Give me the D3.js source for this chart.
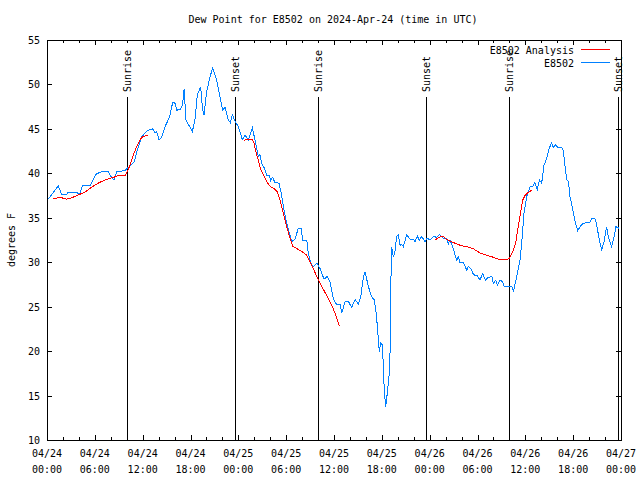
<!DOCTYPE html>
<html><head><meta charset="utf-8">
<script src="https://cdn.jsdelivr.net/npm/d3@7/dist/d3.min.js"></script>
<style>
body{margin:0;background:#fff;}
text{font-family:"DejaVu Sans Mono","Liberation Mono",monospace;font-size:10px;fill:#000;}
</style>
</head><body>
<svg id="chart" width="640" height="480"></svg>
<script>
const title = "Dew Point for E8502 on 2024-Apr-24 (time in UTC)";
const yLabel = "degrees F";
const startDate = Date.UTC(2024, 3, 24, 0, 0);
const tickDateLabels = ["04/24","04/24","04/24","04/24","04/25","04/25","04/25","04/25","04/26","04/26","04/26","04/26","04/27"];
const tickTimeLabels = ["00:00","06:00","12:00","18:00","00:00","06:00","12:00","18:00","00:00","06:00","12:00","18:00","00:00"];
const yTicks = [10,15,20,25,30,35,40,45,50,55];

// hours since 2024-04-24 00:00 UTC
const obsHours = [0.17,1.0,1.42,1.84,2.47,2.68,3.72,4.05,4.47,5.39,6.15,6.86,7.69,7.9,8.4,8.74,9.78,10.12,10.95,11.25,11.87,12.58,13.25,13.55,13.76,14.05,14.4,14.8,15.2,15.43,15.76,16.06,16.27,16.7,17.0,17.2,17.44,17.8,18.23,18.56,18.85,19.27,19.5,19.7,20.03,20.45,20.78,21.28,21.7,22.03,22.33,22.75,23.0,23.25,23.62,24.0,24.5,24.84,25.26,25.76,26.09,26.5,26.7,26.93,27.2,27.56,27.9,28.06,28.3,28.6,29.1,29.35,29.73,29.98,30.3,30.7,31.1,31.52,31.86,32.07,32.58,32.78,33.08,33.4,33.83,34.24,34.75,35.16,35.5,35.92,36.34,36.75,36.97,37.4,37.8,38.22,38.64,39.05,39.35,39.7,39.9,40.3,40.73,41.06,41.27,41.43,41.68,41.86,42.06,42.19,42.3,42.49,42.7,42.94,43.11,43.15,43.24,43.44,43.65,43.86,44.07,44.28,44.49,44.7,45.12,45.53,45.95,46.16,46.45,46.7,47.0,47.42,47.7,48.04,48.46,48.88,49.2,49.5,49.8,50.13,50.34,50.55,50.89,51.18,51.39,51.6,51.8,52.2,52.65,52.85,53.15,53.5,54.0,54.3,54.65,55.0,55.35,55.8,56.0,56.3,56.5,56.83,57.17,57.33,58.08,58.37,58.5,58.92,59.33,59.54,59.83,60.17,60.59,60.93,61.2,61.5,61.76,62.05,62.34,62.68,63.0,63.3,63.5,63.8,64.06,64.56,64.77,64.98,65.2,65.4,65.6,65.95,66.23,66.57,66.86,67.28,68.04,68.33,68.74,68.95,69.28,69.57,69.87,70.2,70.4,70.83,71.1,71.37,71.78];
const obsValues = [37.1,38.1,38.6,37.6,37.6,37.9,37.9,37.6,38.6,38.6,39.9,40.2,40.2,39.8,39.25,40.2,40.3,40.6,41.3,42.4,44.1,44.8,45.0,44.6,44.7,43.75,44.1,45.25,46.0,46.6,47.95,47.9,47.1,47.2,47.7,49.45,46.0,45.4,44.7,46.0,48.8,49.75,47.3,46.6,49.2,50.9,51.8,50.5,48.6,47.1,47.4,46.0,45.7,46.6,45.8,45.25,43.8,44.3,43.8,45.1,43.75,41.9,42.1,41.1,40.7,39.8,39.7,39.2,39.55,38.95,38.9,37.9,35.9,34.75,33.6,32.3,32.6,33.8,33.8,32.5,32.5,31.0,29.9,29.5,29.9,29.3,28.1,28.4,27.8,25.9,25.2,25.3,24.3,25.6,25.6,24.9,25.8,25.3,26.1,28.4,28.9,27.3,26.1,25.75,24.4,22.9,19.9,20.9,20.7,18.4,15.6,13.75,15.4,17.5,22.0,28.4,31.75,30.6,31.2,32.9,33.1,31.9,32.0,31.75,33.1,32.6,32.6,32.3,32.95,32.5,32.9,32.3,32.7,32.5,32.9,32.8,33.1,32.9,32.6,32.7,32.05,32.5,31.75,30.8,30.25,30.6,29.9,30.0,29.1,29.5,29.3,28.6,28.45,28.0,28.7,28.0,28.3,28.4,27.6,28.0,27.4,28.0,27.8,27.3,27.3,27.2,26.7,28.4,30.25,32.1,35.5,37.4,38.5,38.5,38.95,38.2,39.25,38.9,40.9,41.7,42.8,43.45,42.9,43.2,42.9,42.9,42.6,40.75,39.25,39.1,37.4,35.9,34.6,33.55,34.0,34.4,34.45,34.9,34.9,34.2,32.5,31.4,32.3,34.0,32.9,31.75,32.7,34.0,33.8];

// analysis (null = gap)
const anaHours = [0.71,1.63,2.05,2.47,2.97,3.51,4.14,4.77,5.39,6.02,6.65,7.28,7.9,8.53,8.95,9.78,10.08,10.4,10.83,11.25,11.54,11.88,12.3,12.7,18.0,24.7,25.25,25.7,25.97,26.2,26.5,26.8,27.2,27.56,27.97,28.6,28.9,29.23,29.64,30.07,30.48,30.82,31.32,31.95,32.58,33.0,33.4,33.83,34.24,34.66,35.28,35.7,36.13,36.67,42.0,48.67,49.3,49.7,50.13,50.76,51.4,52.0,52.65,53.5,54.3,55.15,56.0,56.8,57.66,57.98,58.5,58.83,59.1,59.4,59.67,59.96,60.37,60.8];
const anaValues = [37.1,37.3,37.2,37.1,37.2,37.4,37.65,37.9,38.3,38.7,39.0,39.25,39.45,39.6,39.8,39.75,40.2,40.9,42.05,43.0,43.55,44.05,44.2,44.3,null,43.7,43.85,43.85,43.4,42.45,41.5,40.45,39.7,39.05,38.55,38.2,37.9,37.0,35.5,34.0,32.7,31.8,31.55,31.2,30.8,30.05,29.3,28.4,27.7,26.95,25.95,25.2,24.25,22.8,null,32.5,32.85,32.9,32.55,32.3,32.05,31.85,31.75,31.5,31.05,30.8,30.55,30.3,30.25,30.45,31.3,32.4,34.0,35.5,37.0,37.5,37.85,38.1];

const sunHours = [10.0,23.62,34.03,47.58,57.99,71.66];
const sunLabels = ["Sunrise","Sunset","Sunrise","Sunset","Sunrise","Sunset"];
const seriesNames = ["E8502 Analysis","E8502"];
const seriesColors = ["#ff0000","#0080ff"];

const L = 47, R = 621, T = 40, B = 440;
const toDate = h => new Date(startDate + h * 3600e3);
const x = d3.scaleUtc().domain([toDate(0), toDate(72)]).range([L, R]);
const y = d3.scaleLinear().domain([10, 55]).range([B, T]);

const svg = d3.select("#chart");

// title
svg.append("text").attr("x", 333).attr("y", 23).attr("text-anchor", "middle").text(title);
// y label
svg.append("text").attr("transform", "translate(15,240) rotate(-90)").attr("text-anchor", "middle").text(yLabel);

const frame = svg.append("g").attr("shape-rendering", "crispEdges").attr("stroke", "#000").attr("fill", "none");

// x ticks: major every 6h, minor every 2h, bottom + top mirror
const minorTicks = d3.range(0, 73, 2).map(toDate);
const majorTicks = d3.range(0, 73, 6).map(toDate);
minorTicks.forEach(t => {
  const px = Math.round(x(t)) + 0.5;
  frame.append("line").attr("x1", px).attr("x2", px).attr("y1", B).attr("y2", B - 3);
  frame.append("line").attr("x1", px).attr("x2", px).attr("y1", T).attr("y2", T + 3);
});
majorTicks.forEach((t, i) => {
  const px = Math.round(x(t)) + 0.5;
  frame.append("line").attr("x1", px).attr("x2", px).attr("y1", B).attr("y2", B - 5);
  frame.append("line").attr("x1", px).attr("x2", px).attr("y1", T).attr("y2", T + 5);
  svg.append("text").attr("x", x(t)).attr("y", 457).attr("text-anchor", "middle").text(tickDateLabels[i]);
  svg.append("text").attr("x", x(t)).attr("y", 473).attr("text-anchor", "middle").text(tickTimeLabels[i]);
});
// y ticks
yTicks.forEach(v => {
  const py = Math.round(y(v)) + 0.5;
  frame.append("line").attr("x1", L).attr("x2", L + 5).attr("y1", py).attr("y2", py);
  frame.append("line").attr("x1", R).attr("x2", R - 5).attr("y1", py).attr("y2", py);
  svg.append("text").attr("x", 40).attr("y", y(v) + 4).attr("text-anchor", "end").text(v);
});
// frame border
frame.append("rect").attr("x", L + 0.5).attr("y", T + 0.5).attr("width", R - L).attr("height", B - T);

// sunrise/sunset lines
sunHours.forEach((h, i) => {
  const px = Math.round(x(toDate(h))) + 0.5;
  frame.append("line").attr("x1", px).attr("x2", px).attr("y1", 97).attr("y2", B);
  svg.append("text").attr("transform", `translate(${x(toDate(h)) + 4},92) rotate(-90)`)
    .attr("text-anchor", "start").text(sunLabels[i]);
});

// data lines
const anaData = anaHours.map((h, i) => ({t: toDate(h), v: anaValues[i]}));
const obsData = obsHours.map((h, i) => ({t: toDate(h), v: obsValues[i]}));
const line = d3.line().defined(d => d.v !== null).x(d => x(d.t)).y(d => y(d.v));
svg.append("path").datum(obsData).attr("d", line).attr("fill", "none")
  .attr("stroke", seriesColors[1]).attr("stroke-width", 1).attr("shape-rendering", "crispEdges");
svg.append("path").datum(anaData).attr("d", line).attr("fill", "none")
  .attr("stroke", seriesColors[0]).attr("stroke-width", 1).attr("shape-rendering", "crispEdges");

// legend
seriesNames.forEach((name, i) => {
  const ly = 50 + i * 13;
  svg.append("text").attr("x", 574).attr("y", ly + 4).attr("text-anchor", "end").text(name);
  svg.append("line").attr("x1", 581).attr("x2", 610).attr("y1", ly - 0.5).attr("y2", ly - 0.5)
    .attr("stroke", seriesColors[i]).attr("shape-rendering", "crispEdges");
});
</script>
</body></html>
